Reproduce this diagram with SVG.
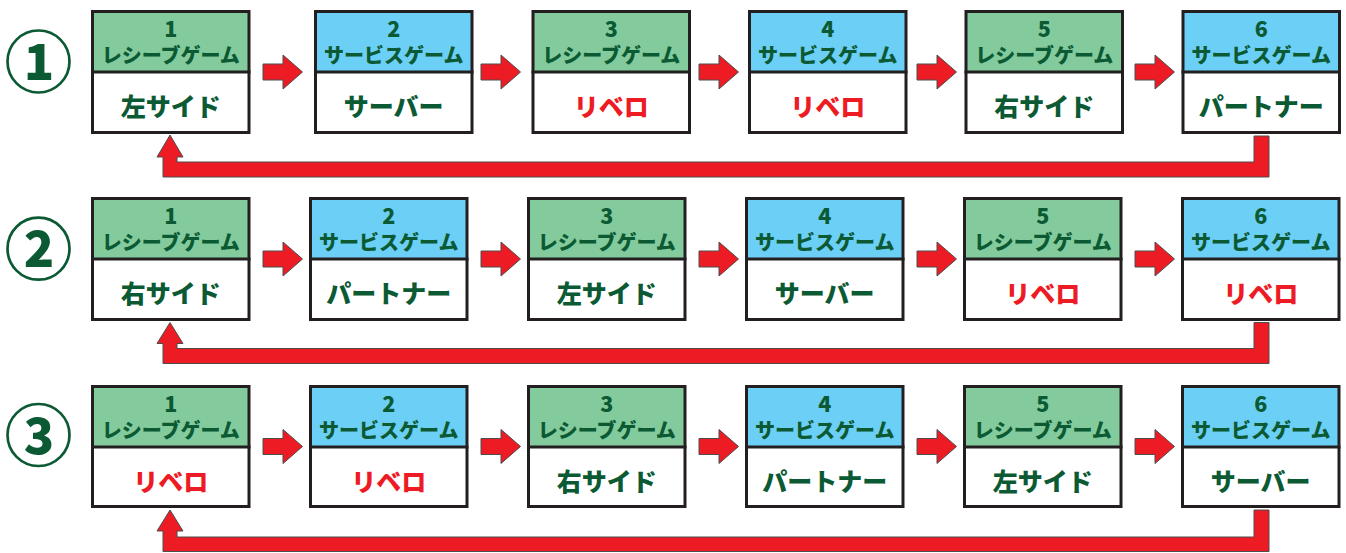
<svg xmlns="http://www.w3.org/2000/svg" width="1346" height="553" viewBox="0 0 1346 553">
<style>
.bg{fill:#ffffff}
.hg{fill:#83CB9C}
.hb{fill:#6CCFF6}
.frame{fill:none;stroke:#231F20;stroke-width:3}
.div{stroke:#231F20;stroke-width:3}
.t{font-family:"Noto Sans CJK JP","Noto Sans",sans-serif;font-weight:900;text-anchor:middle;fill:#0B5A34}
.num{font-size:21.5px}
.lab{font-size:20px}
.main{font-size:25px}
.red{fill:#ED1C24}
.arr{fill:#ED1C24;stroke:#4D4D4D;stroke-width:1;stroke-linejoin:miter}
.ring{fill:none;stroke:#0B5A34;stroke-width:2.7}
.cn{font-family:"Noto Sans CJK JP","Open Sans",sans-serif;font-weight:900;font-size:50px;text-anchor:middle;fill:#0B5A34}
</style>

<g id="label-row1"><circle class="ring" cx="38.5" cy="61.5" r="31"/><text class="cn" x="39" y="80">1</text></g>
<g id="label-row2"><circle class="ring" cx="38.5" cy="248.7" r="31"/><text class="cn" x="39" y="267.2">2</text></g>
<g id="label-row3"><circle class="ring" cx="38.5" cy="435" r="31"/><text class="cn" x="39" y="453.5">3</text></g>

<!-- Row 1 -->
<g id="r1n1" transform="translate(91,10)"><rect class="bg" x="1.5" y="1.5" width="156.5" height="121"/><rect class="hg" x="1.5" y="1.5" width="156.5" height="60.5"/><line class="div" x1="0" y1="62" x2="159.5" y2="62"/><rect class="frame" x="1.5" y="1.5" width="156.5" height="121"/><text class="t num" x="79.75" y="27">1</text><text class="t lab" x="79.75" y="53">レシーブゲーム</text><text class="t main" x="79.75" y="106">左サイド</text></g>
<g id="r1n2" transform="translate(314,10)"><rect class="bg" x="1.5" y="1.5" width="156.5" height="121"/><rect class="hb" x="1.5" y="1.5" width="156.5" height="60.5"/><line class="div" x1="0" y1="62" x2="159.5" y2="62"/><rect class="frame" x="1.5" y="1.5" width="156.5" height="121"/><text class="t num" x="79.75" y="27">2</text><text class="t lab" x="79.75" y="53">サービスゲーム</text><text class="t main" x="79.75" y="106">サーバー</text></g>
<g id="r1n3" transform="translate(531.5,10)"><rect class="bg" x="1.5" y="1.5" width="156.5" height="121"/><rect class="hg" x="1.5" y="1.5" width="156.5" height="60.5"/><line class="div" x1="0" y1="62" x2="159.5" y2="62"/><rect class="frame" x="1.5" y="1.5" width="156.5" height="121"/><text class="t num" x="79.75" y="27">3</text><text class="t lab" x="79.75" y="53">レシーブゲーム</text><text class="t main red" x="79.75" y="106">リベロ</text></g>
<g id="r1n4" transform="translate(748,10)"><rect class="bg" x="1.5" y="1.5" width="156.5" height="121"/><rect class="hb" x="1.5" y="1.5" width="156.5" height="60.5"/><line class="div" x1="0" y1="62" x2="159.5" y2="62"/><rect class="frame" x="1.5" y="1.5" width="156.5" height="121"/><text class="t num" x="79.75" y="27">4</text><text class="t lab" x="79.75" y="53">サービスゲーム</text><text class="t main red" x="79.75" y="106">リベロ</text></g>
<g id="r1n5" transform="translate(964.5,10)"><rect class="bg" x="1.5" y="1.5" width="156.5" height="121"/><rect class="hg" x="1.5" y="1.5" width="156.5" height="60.5"/><line class="div" x1="0" y1="62" x2="159.5" y2="62"/><rect class="frame" x="1.5" y="1.5" width="156.5" height="121"/><text class="t num" x="79.75" y="27">5</text><text class="t lab" x="79.75" y="53">レシーブゲーム</text><text class="t main" x="79.75" y="106">右サイド</text></g>
<g id="r1n6" transform="translate(1181.5,10)"><rect class="bg" x="1.5" y="1.5" width="156.5" height="121"/><rect class="hb" x="1.5" y="1.5" width="156.5" height="60.5"/><line class="div" x1="0" y1="62" x2="159.5" y2="62"/><rect class="frame" x="1.5" y="1.5" width="156.5" height="121"/><text class="t num" x="79.75" y="27">6</text><text class="t lab" x="79.75" y="53">サービスゲーム</text><text class="t main" x="79.75" y="106">パートナー</text></g>

<!-- Row 2 -->
<g id="r2n1" transform="translate(91,197)"><rect class="bg" x="1.5" y="1.5" width="156.5" height="121"/><rect class="hg" x="1.5" y="1.5" width="156.5" height="60.5"/><line class="div" x1="0" y1="62" x2="159.5" y2="62"/><rect class="frame" x="1.5" y="1.5" width="156.5" height="121"/><text class="t num" x="79.75" y="27">1</text><text class="t lab" x="79.75" y="53">レシーブゲーム</text><text class="t main" x="79.75" y="106">右サイド</text></g>
<g id="r2n2" transform="translate(309,197)"><rect class="bg" x="1.5" y="1.5" width="156.5" height="121"/><rect class="hb" x="1.5" y="1.5" width="156.5" height="60.5"/><line class="div" x1="0" y1="62" x2="159.5" y2="62"/><rect class="frame" x="1.5" y="1.5" width="156.5" height="121"/><text class="t num" x="79.75" y="27">2</text><text class="t lab" x="79.75" y="53">サービスゲーム</text><text class="t main" x="79.75" y="106">パートナー</text></g>
<g id="r2n3" transform="translate(527,197)"><rect class="bg" x="1.5" y="1.5" width="156.5" height="121"/><rect class="hg" x="1.5" y="1.5" width="156.5" height="60.5"/><line class="div" x1="0" y1="62" x2="159.5" y2="62"/><rect class="frame" x="1.5" y="1.5" width="156.5" height="121"/><text class="t num" x="79.75" y="27">3</text><text class="t lab" x="79.75" y="53">レシーブゲーム</text><text class="t main" x="79.75" y="106">左サイド</text></g>
<g id="r2n4" transform="translate(745,197)"><rect class="bg" x="1.5" y="1.5" width="156.5" height="121"/><rect class="hb" x="1.5" y="1.5" width="156.5" height="60.5"/><line class="div" x1="0" y1="62" x2="159.5" y2="62"/><rect class="frame" x="1.5" y="1.5" width="156.5" height="121"/><text class="t num" x="79.75" y="27">4</text><text class="t lab" x="79.75" y="53">サービスゲーム</text><text class="t main" x="79.75" y="106">サーバー</text></g>
<g id="r2n5" transform="translate(963,197)"><rect class="bg" x="1.5" y="1.5" width="156.5" height="121"/><rect class="hg" x="1.5" y="1.5" width="156.5" height="60.5"/><line class="div" x1="0" y1="62" x2="159.5" y2="62"/><rect class="frame" x="1.5" y="1.5" width="156.5" height="121"/><text class="t num" x="79.75" y="27">5</text><text class="t lab" x="79.75" y="53">レシーブゲーム</text><text class="t main red" x="79.75" y="106">リベロ</text></g>
<g id="r2n6" transform="translate(1181,197)"><rect class="bg" x="1.5" y="1.5" width="156.5" height="121"/><rect class="hb" x="1.5" y="1.5" width="156.5" height="60.5"/><line class="div" x1="0" y1="62" x2="159.5" y2="62"/><rect class="frame" x="1.5" y="1.5" width="156.5" height="121"/><text class="t num" x="79.75" y="27">6</text><text class="t lab" x="79.75" y="53">サービスゲーム</text><text class="t main red" x="79.75" y="106">リベロ</text></g>

<!-- Row 3 -->
<g id="r3n1" transform="translate(91,385)"><rect class="bg" x="1.5" y="1.5" width="156.5" height="120"/><rect class="hg" x="1.5" y="1.5" width="156.5" height="60.5"/><line class="div" x1="0" y1="62" x2="159.5" y2="62"/><rect class="frame" x="1.5" y="1.5" width="156.5" height="120"/><text class="t num" x="79.75" y="27">1</text><text class="t lab" x="79.75" y="53">レシーブゲーム</text><text class="t main red" x="79.75" y="105.5">リベロ</text></g>
<g id="r3n2" transform="translate(309,385)"><rect class="bg" x="1.5" y="1.5" width="156.5" height="120"/><rect class="hb" x="1.5" y="1.5" width="156.5" height="60.5"/><line class="div" x1="0" y1="62" x2="159.5" y2="62"/><rect class="frame" x="1.5" y="1.5" width="156.5" height="120"/><text class="t num" x="79.75" y="27">2</text><text class="t lab" x="79.75" y="53">サービスゲーム</text><text class="t main red" x="79.75" y="105.5">リベロ</text></g>
<g id="r3n3" transform="translate(527,385)"><rect class="bg" x="1.5" y="1.5" width="156.5" height="120"/><rect class="hg" x="1.5" y="1.5" width="156.5" height="60.5"/><line class="div" x1="0" y1="62" x2="159.5" y2="62"/><rect class="frame" x="1.5" y="1.5" width="156.5" height="120"/><text class="t num" x="79.75" y="27">3</text><text class="t lab" x="79.75" y="53">レシーブゲーム</text><text class="t main" x="79.75" y="105.5">右サイド</text></g>
<g id="r3n4" transform="translate(745,385)"><rect class="bg" x="1.5" y="1.5" width="156.5" height="120"/><rect class="hb" x="1.5" y="1.5" width="156.5" height="60.5"/><line class="div" x1="0" y1="62" x2="159.5" y2="62"/><rect class="frame" x="1.5" y="1.5" width="156.5" height="120"/><text class="t num" x="79.75" y="27">4</text><text class="t lab" x="79.75" y="53">サービスゲーム</text><text class="t main" x="79.75" y="105.5">パートナー</text></g>
<g id="r3n5" transform="translate(963,385)"><rect class="bg" x="1.5" y="1.5" width="156.5" height="120"/><rect class="hg" x="1.5" y="1.5" width="156.5" height="60.5"/><line class="div" x1="0" y1="62" x2="159.5" y2="62"/><rect class="frame" x="1.5" y="1.5" width="156.5" height="120"/><text class="t num" x="79.75" y="27">5</text><text class="t lab" x="79.75" y="53">レシーブゲーム</text><text class="t main" x="79.75" y="105.5">左サイド</text></g>
<g id="r3n6" transform="translate(1181,385)"><rect class="bg" x="1.5" y="1.5" width="156.5" height="120"/><rect class="hb" x="1.5" y="1.5" width="156.5" height="60.5"/><line class="div" x1="0" y1="62" x2="159.5" y2="62"/><rect class="frame" x="1.5" y="1.5" width="156.5" height="120"/><text class="t num" x="79.75" y="27">6</text><text class="t lab" x="79.75" y="53">サービスゲーム</text><text class="t main" x="79.75" y="105.5">サーバー</text></g>

<g id="connectors">
  <defs>
    <path id="fwd" d="M0,-8 H20 V-17 L39.5,0 L20,17 V8 H0 Z"/>
  </defs>
  <use href="#fwd" class="arr" transform="translate(263,72)"/>
  <use href="#fwd" class="arr" transform="translate(481,72)"/>
  <use href="#fwd" class="arr" transform="translate(699,72)"/>
  <use href="#fwd" class="arr" transform="translate(917,72)"/>
  <use href="#fwd" class="arr" transform="translate(1135,72)"/>

  <use href="#fwd" class="arr" transform="translate(263,259)"/>
  <use href="#fwd" class="arr" transform="translate(481,259)"/>
  <use href="#fwd" class="arr" transform="translate(699,259)"/>
  <use href="#fwd" class="arr" transform="translate(917,259)"/>
  <use href="#fwd" class="arr" transform="translate(1135,259)"/>

  <use href="#fwd" class="arr" transform="translate(263,446.5)"/>
  <use href="#fwd" class="arr" transform="translate(481,446.5)"/>
  <use href="#fwd" class="arr" transform="translate(699,446.5)"/>
  <use href="#fwd" class="arr" transform="translate(917,446.5)"/>
  <use href="#fwd" class="arr" transform="translate(1135,446.5)"/>

  <path class="arr" d="M170,135 L183,157 L177,157 L177,162 L1254,162 L1254,136 L1269,136 L1269,177 L163,177 L163,157 L157,157 Z"/>
  <path class="arr" d="M170,322.5 L183,343.5 L177,343.5 L177,348.5 L1254,348.5 L1254,322.5 L1269,322.5 L1269,363.5 L163,363.5 L163,343.5 L157,343.5 Z"/>
  <path class="arr" d="M170,510 L183,531 L177,531 L177,537 L1254,537 L1254,510 L1269,510 L1269,551.5 L163,551.5 L163,531 L157,531 Z"/>
</g>
</svg>
